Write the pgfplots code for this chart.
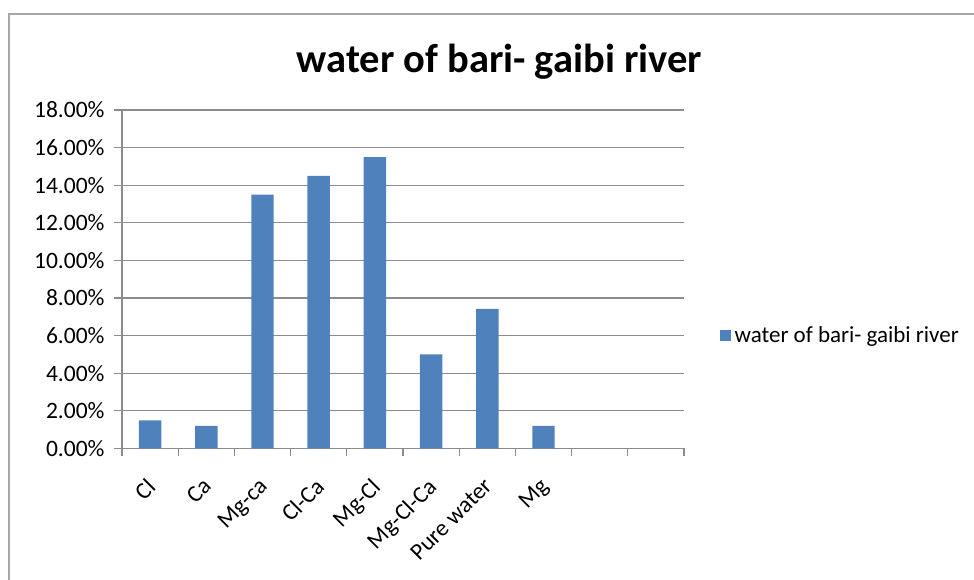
\documentclass[border=0pt]{standalone}
\usepackage{pgfplots}
\pgfplotsset{compat=1.18}
\usepackage{fontspec}
\setmainfont{Carlito}
\definecolor{barblue}{HTML}{4F81BD}
\definecolor{gridgray}{HTML}{8C8C8C}
\definecolor{framegray}{HTML}{A6A6A6}
\begin{document}
\begin{tikzpicture}
\path[use as bounding box] (0,0) rectangle (974pt,580pt);
\draw[framegray, line width=1.5pt] (9pt,0) -- (9pt,566pt) -- (974pt,566pt);
\node[font=\fontsize{40.5}{48}\selectfont\bfseries, anchor=base, inner sep=0pt] at (499.5pt,507pt) {water of bari- gaibi river};
\begin{axis}[
  at={(122pt,131.5pt)}, anchor=south west,
  scale only axis, width=562pt, height=338.5pt,
  xmin=0.5, xmax=10.5, ymin=0, ymax=18,
  axis lines=left,
  axis line style={-, gridgray, line width=1.2pt},
  tick align=outside,
  major tick length=8pt,
  tick style={gridgray, line width=1.2pt},
  ytick={0,2,...,18},
  yticklabels={0.00\%,2.00\%,4.00\%,6.00\%,8.00\%,10.00\%,12.00\%,14.00\%,16.00\%,18.00\%},
  xtick={0.5,1.5,...,10.5},
  xticklabels={},
  extra x ticks={1,2,3,4,5,6,7,8},
  extra x tick labels={Cl,Ca,Mg-ca,Cl-Ca,Mg-Cl,Mg-Cl-Ca,Pure water,Mg},
  extra x tick style={major tick length=0pt, grid=none,
    tick label style={xshift=-9pt, yshift=-21pt, rotate=45, anchor=north east, inner sep=2pt, yshift=-6pt}},
  tick label style={font=\fontsize{23.5}{28}\selectfont, black},
  y tick label style={xshift=-6pt},
  ymajorgrids,
  major grid style={gridgray, line width=1.2pt},
  ybar, bar width=0.4,
  legend style={at={(1.063,0.335)}, anchor=west, draw=none, fill=none,
    font=\fontsize{23}{28}\selectfont, inner sep=0pt,
    /tikz/every even column/.append style={column sep=0pt}},
  legend cell align=left,
  legend image code/.code={\fill[barblue] (0pt,-5.5pt) rectangle (11pt,5.5pt); \path (13pt,0pt);},
]
\addplot[fill=barblue, draw=none] coordinates {
  (1,1.5) (2,1.2) (3,13.5) (4,14.5) (5,15.5) (6,5.0) (7,7.43) (8,1.2)
};
\addlegendentry{water of bari- gaibi river}
\end{axis}
\end{tikzpicture}
\end{document}
